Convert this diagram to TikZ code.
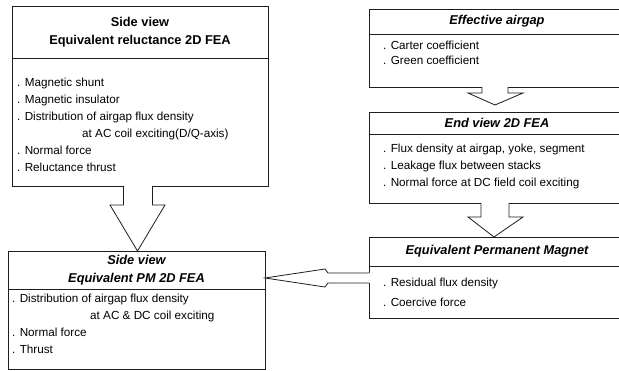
\documentclass[tikz,border=0pt]{standalone}
\usepackage{fontspec}
\setmainfont{Liberation Sans}
\usetikzlibrary{calc}
\definecolor{linec}{RGB}{30,30,30}
\newcommand\ttlfont{\fontsize{12.8}{18}\selectfont\bfseries}
\newcommand\ttlfontit{\fontsize{12.8}{18}\selectfont\bfseries\itshape}
\newcommand\bodyfont{\fontsize{11.7}{17}\selectfont}
\newcommand\bst{\rule{0pt}{12pt}}
\begin{document}
\begin{tikzpicture}[x=1pt,y=-1pt,
  boxpart/.style={draw=linec, line width=0.8pt, inner sep=0pt, outer sep=0pt, anchor=north west},
  bodytext/.style={inner sep=0pt, anchor=north west, align=left, font=\bodyfont},
  blockarrow/.style={draw=linec, line width=0.8pt, line join=miter}]
\clip (0,0) rectangle (619,371);
\fill[white] (0,0) rectangle (619,371);
% Box 1
\node[boxpart, minimum width=256pt, minimum height=52pt, align=center, font=\ttlfont] (t1) at (12,6) {Side view\\Equivalent reluctance 2D FEA};
\node[boxpart, minimum width=256pt, minimum height=128pt] (b1) at (t1.south west) {};
\node[bodytext] (x1) at ($(b1.north west)+(5,16)$) {\bst. Magnetic shunt\\. Magnetic insulator\\. Distribution of airgap flux density\\\hspace*{65pt}at AC coil exciting(D/Q-axis)\\. Normal force\\. Reluctance thrust};
% Box 2
\node[boxpart, minimum width=257pt, minimum height=38pt, align=center, font=\ttlfontit] (t2) at (8,251) {Side view\\Equivalent PM 2D FEA};
\node[boxpart, minimum width=257pt, minimum height=80pt] (b2) at (t2.south west) {};
\node[bodytext] (x2) at ($(b2.north west)+(4,1)$) {\bst. Distribution of airgap flux density\\\hspace*{78pt}at AC \& DC coil exciting\\. Normal force\\. Thrust};
% Box 3
\node[boxpart, minimum width=256pt, minimum height=25pt, font=\ttlfontit] (t3) at (369,9) {Effective airgap};
\node[boxpart, minimum width=256pt, minimum height=53pt] (b3) at (t3.south west) {};
\node[bodytext, font=\fontsize{11.7}{15}\selectfont] (x3) at ($(b3.north west)+(14,3)$) {\bst. Carter coefficient\\. Green coefficient};
% Box 4
\node[boxpart, minimum width=256pt, minimum height=22pt, font=\ttlfontit] (t4) at (369,112) {End view 2D FEA};
\node[boxpart, minimum width=256pt, minimum height=69pt] (b4) at (t4.south west) {};
\node[bodytext, font=\fontsize{11.7}{17}\selectfont] (x4) at ($(b4.north west)+(14,6)$) {\bst. Flux density at airgap, yoke, segment\\. Leakage flux between stacks\\. Normal force at DC field coil exciting};
% Box 5
\node[boxpart, minimum width=256pt, minimum height=29pt, font=\ttlfontit] (t5) at (369,237) {Equivalent Permanent Magnet};
\node[boxpart, minimum width=256pt, minimum height=52pt] (b5) at (t5.south west) {};
\node[bodytext, font=\fontsize{11.7}{20}\selectfont] (x5) at ($(b5.north west)+(14,8)$) {\bst. Residual flux density\\. Coercive force};
% Arrow 1: b1 -> t2
\coordinate (a1tip) at ($(t2.north west)+(129.5,0)$);
\fill[white] ($(b1.south west)+(111.5,-1)$) -- ++(29,0) -- ++(0,20) -- ++(12.5,0) -- (a1tip) -- ($(b1.south west)+(98,19)$) -- ++(13.5,0) -- cycle;
\draw[blockarrow] ($(b1.south west)+(111.5,0)$) -- ++(0,19) -- ++(-13.5,0) -- (a1tip) -- ($(b1.south west)+(153,19)$) -- ++(-12.5,0) -- ++(0,-19);
% Arrow 2: b3 -> t4
\coordinate (a2tip) at ($(t4.north west)+(126,-7)$);
\fill[white] ($(b3.south west)+(113,-1)$) -- ++(26,0) -- ++(0,7) -- ++(15,0) -- (a2tip) -- ($(b3.south west)+(99,6)$) -- ++(14,0) -- cycle;
\draw[blockarrow] ($(b3.south west)+(113,0)$) -- ++(0,6) -- ++(-14,0) -- (a2tip) -- ($(b3.south west)+(154,6)$) -- ++(-15,0) -- ++(0,-6);
% Arrow 3: b4 -> t5
\coordinate (a3tip) at ($(t5.north west)+(125,0)$);
\fill[white] ($(b4.south west)+(112,-1)$) -- ++(28,0) -- ++(0,15) -- ++(14,0) -- (a3tip) -- ($(b4.south west)+(99,14)$) -- ++(13,0) -- cycle;
\draw[blockarrow] ($(b4.south west)+(112,0)$) -- ++(0,14) -- ++(-13,0) -- (a3tip) -- ($(b4.south west)+(154,14)$) -- ++(-14,0) -- ++(0,-14);
% Arrow 4: b5 -> t2 right side
\coordinate (a4tip) at ($(t2.south east)+(0,-11)$);
\fill[white] ($(b5.north west)+(1,7)$) -- ++(-43,0) -- ++(0,-4) -- (a4tip) -- ($(b5.north west)+(-44,21)$) -- ++(2,-4) -- ++(43,0) -- cycle;
\draw[blockarrow] ($(b5.north west)+(0,7)$) -- ++(-41,0) -- ++(-3,-4) -- (a4tip) -- ($(b5.north west)+(-44,21)$) -- ++(3,-4) -- ++(41,0);
\end{tikzpicture}
\end{document}
